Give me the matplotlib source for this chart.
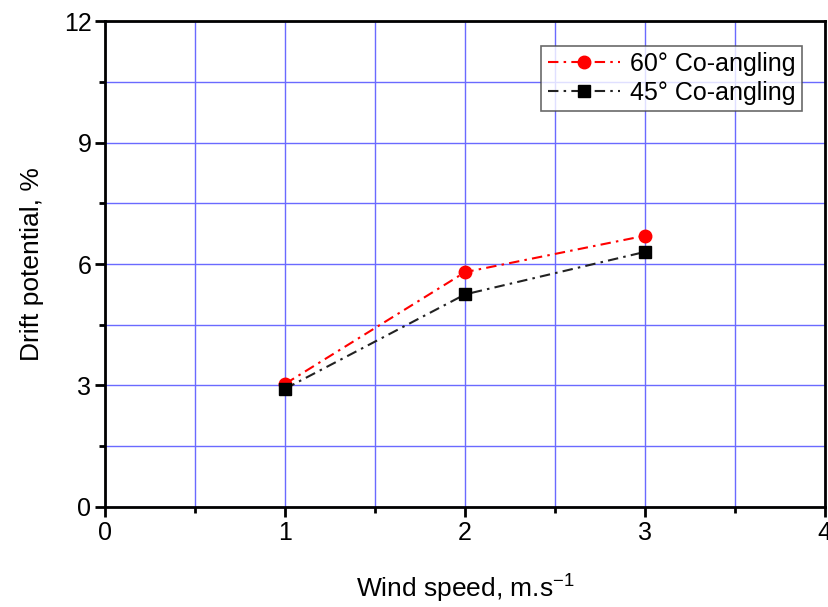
import matplotlib
matplotlib.use('Agg')
import matplotlib.pyplot as plt
from matplotlib.ticker import MultipleLocator

plt.rcParams['font.family'] = ['Liberation Sans', 'DejaVu Sans']

wind_speed = [1, 2, 3]
drift_60 = [3.04, 5.80, 6.70]
drift_45 = [2.92, 5.25, 6.30]

fig = plt.figure(figsize=(8.29, 6.07), dpi=100)
ax = fig.add_axes([0.127, 0.165, 0.868, 0.80])

dash = (5, 2.5, 1.2, 2.5)
ax.plot(wind_speed, drift_60, color='red', linestyle=(0, dash), marker='o',
        markersize=9, linewidth=1.5, label='60° Co-angling', zorder=3)
ax.plot(wind_speed, drift_45, color='#222222', linestyle=(0, dash), marker='s',
        markersize=8, markerfacecolor='black', markeredgecolor='black',
        linewidth=1.5, label='45° Co-angling', zorder=3)

ax.set_xlim(0, 4)
ax.set_ylim(0, 12)
ax.xaxis.set_major_locator(MultipleLocator(1))
ax.xaxis.set_minor_locator(MultipleLocator(0.5))
ax.yaxis.set_major_locator(MultipleLocator(3))
ax.yaxis.set_minor_locator(MultipleLocator(1.5))

ax.grid(which='both', color='#6a6aff', linewidth=1.0)
ax.set_axisbelow(True)

for s in ax.spines.values():
    s.set_linewidth(2)

ax.tick_params(which='major', direction='out', length=7, width=2,
               labelsize=18, pad=3)
ax.tick_params(which='minor', direction='out', length=4, width=2)

ax.set_xlabel('Wind speed, m.s$^{\\mathregular{-1}}$', fontsize=19, labelpad=19)
ax.set_ylabel('Drift potential, %', fontsize=19, labelpad=14)

leg = ax.legend(loc='upper right', bbox_to_anchor=(0.975, 0.96), fontsize=18,
                frameon=True, fancybox=False, edgecolor='#444444',
                handlelength=2.9, borderpad=0.25, labelspacing=0.2,
                handletextpad=0.4, borderaxespad=0.2)
leg.get_frame().set_linewidth(1.2)

fig.savefig('out.png', dpi=100)
